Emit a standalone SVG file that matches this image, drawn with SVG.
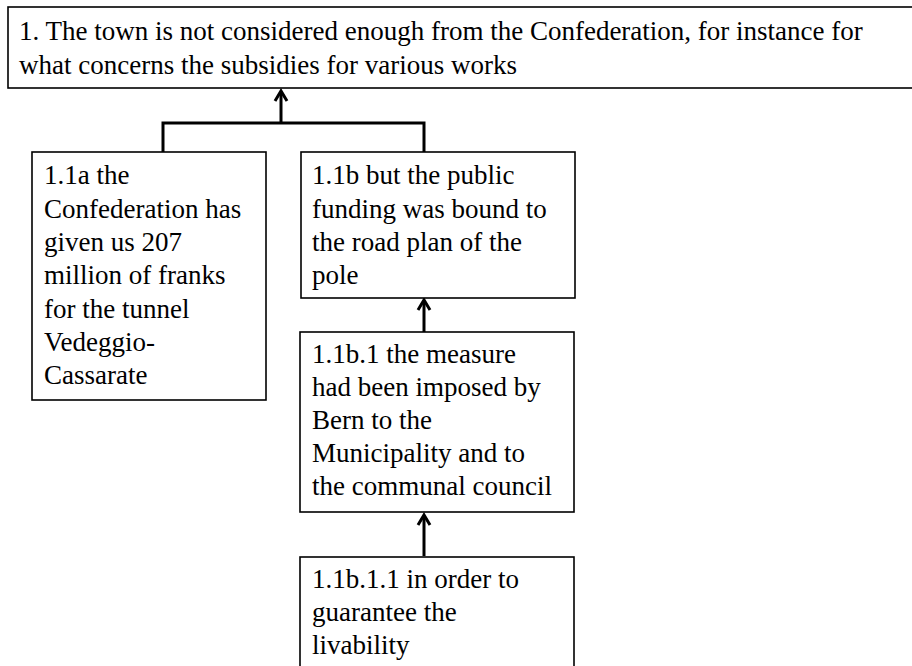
<svg xmlns="http://www.w3.org/2000/svg" width="912" height="666" viewBox="0 0 912 666">
  <style>
    .box { fill: #ffffff; stroke: #000000; stroke-width: 1.6; }
    .link { fill: none; stroke: #000000; stroke-width: 3; }
    .head { fill: none; stroke: #000000; stroke-width: 3; stroke-linejoin: miter; }
  </style>
  <rect width="912" height="666" fill="#ffffff"/>

  <g id="connectors">
    <!-- bracket joining 1.1a and 1.1b up to claim 1 -->
    <polyline class="link" points="163,152 163,123 424,123 424,152"/>
    <line class="link" x1="281" y1="123" x2="281" y2="92"/>
    <polyline class="head" points="275,101 281,91 287,101"/>
    <!-- 1.1b.1 supports 1.1b -->
    <line class="link" x1="424" y1="332" x2="424" y2="301"/>
    <polyline class="head" points="418,310 424,300 430,310"/>
    <!-- 1.1b.1.1 supports 1.1b.1 -->
    <line class="link" x1="424" y1="556" x2="424" y2="516"/>
    <polyline class="head" points="418,525 424,515 430,525"/>
  </g>

  <g font-family="Liberation Serif, DejaVu Serif, serif" font-size="27" fill="#000000">
  <g id="node-1">
    <rect class="box" x="8" y="7" width="910" height="81"/>
    <text x="19" y="40">1. The town is not considered enough from the Confederation, for instance for</text>
    <text x="19" y="74">what concerns the subsidies for various works</text>
  </g>

  <g id="node-1-1a">
    <rect class="box" x="32" y="152" width="234" height="248"/>
    <text x="44" y="184">1.1a the</text>
    <text x="44" y="218">Confederation has</text>
    <text x="44" y="251">given us 207</text>
    <text x="44" y="284">million of franks</text>
    <text x="44" y="318">for the tunnel</text>
    <text x="44" y="351">Vedeggio-</text>
    <text x="44" y="384">Cassarate</text>
  </g>

  <g id="node-1-1b">
    <rect class="box" x="301" y="152" width="274" height="146"/>
    <text x="312" y="184">1.1b but the public</text>
    <text x="312" y="218">funding was bound to</text>
    <text x="312" y="251">the road plan of the</text>
    <text x="312" y="284">pole</text>
  </g>

  <g id="node-1-1b-1">
    <rect class="box" x="300" y="332" width="274" height="180"/>
    <text x="312" y="363">1.1b.1 the measure</text>
    <text x="312" y="396">had been imposed by</text>
    <text x="312" y="429">Bern to the</text>
    <text x="312" y="462">Municipality and to</text>
    <text x="312" y="495">the communal council</text>
  </g>

  <g id="node-1-1b-1-1">
    <rect class="box" x="300" y="557" width="274" height="120"/>
    <text x="312" y="588">1.1b.1.1 in order to</text>
    <text x="312" y="621">guarantee the</text>
    <text x="312" y="654">livability</text>
  </g>
  </g>
</svg>
